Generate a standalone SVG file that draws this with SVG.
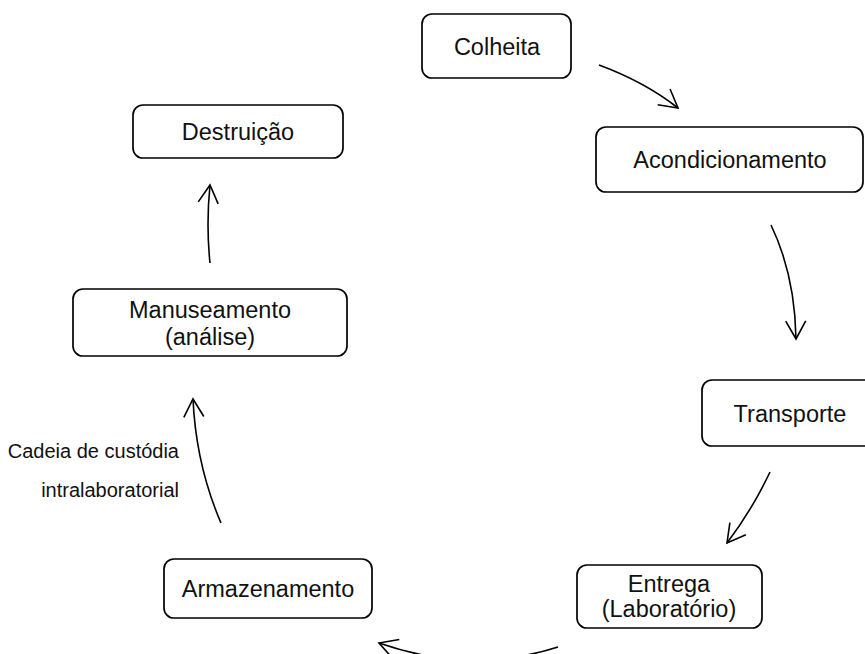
<svg xmlns="http://www.w3.org/2000/svg" width="865" height="654" viewBox="0 0 865 654">
<defs>
<style>
.box{fill:#fff;stroke:#000;stroke-width:1.7}
.t{font-family:"Liberation Sans",Arial,sans-serif;font-size:23.5px;fill:#111;text-anchor:middle}
.lbl{font-family:"Liberation Sans",Arial,sans-serif;font-size:20px;fill:#111;text-anchor:end}
.c{fill:none;stroke:#000;stroke-width:1.6}
</style>
<marker id="arr" markerUnits="userSpaceOnUse" markerWidth="24" markerHeight="24" viewBox="0 0 24 24" refX="20" refY="12" orient="auto">
<path d="M2,2 L20,12 L2,22" fill="none" stroke="#000" stroke-width="1.6"/>
</marker>
</defs>
<rect width="865" height="654" fill="#fff"/>
<g id="n-colheita"><rect class="box" x="422" y="14" width="149" height="64" rx="10"/><text class="t" x="497" y="55">Colheita</text></g>
<g id="n-acond"><rect class="box" x="596" y="127" width="267" height="65" rx="10"/><text class="t" x="730" y="168">Acondicionamento</text></g>
<g id="n-transporte"><rect class="box" x="702" y="380" width="175" height="66" rx="10"/><text class="t" x="790" y="422">Transporte</text></g>
<g id="n-entrega"><rect class="box" x="577" y="565" width="185" height="63" rx="10"/><text class="t" x="669" y="592">Entrega</text><text class="t" x="669" y="617">(Laboratório)</text></g>
<g id="n-armaz"><rect class="box" x="164" y="559" width="208" height="59" rx="10"/><text class="t" x="268" y="597">Armazenamento</text></g>
<g id="n-manus"><rect class="box" x="73" y="289" width="274" height="67" rx="10"/><text class="t" x="210" y="318">Manuseamento</text><text class="t" x="210" y="345">(análise)</text></g>
<g id="n-destr"><rect class="box" x="133" y="105" width="210" height="53" rx="10"/><text class="t" x="238" y="140">Destruição</text></g>
<g id="connectors">
<path class="c" d="M599,65 Q645,82 678,108" marker-end="url(#arr)"/>
<path class="c" d="M771,225 Q795,275 796,339" marker-end="url(#arr)"/>
<path class="c" d="M770,472 Q752,510 727,543" marker-end="url(#arr)"/>
<path class="c" d="M558,647 Q470,675 379,643" marker-end="url(#arr)"/>
<path class="c" d="M221,523 Q196,465 193,399" marker-end="url(#arr)"/>
<path class="c" d="M210,263 Q206,225 210,185" marker-end="url(#arr)"/>
</g>
<g id="label"><text class="lbl" x="179" y="458">Cadeia de custódia</text><text class="lbl" x="179" y="497">intralaboratorial</text></g>
</svg>
